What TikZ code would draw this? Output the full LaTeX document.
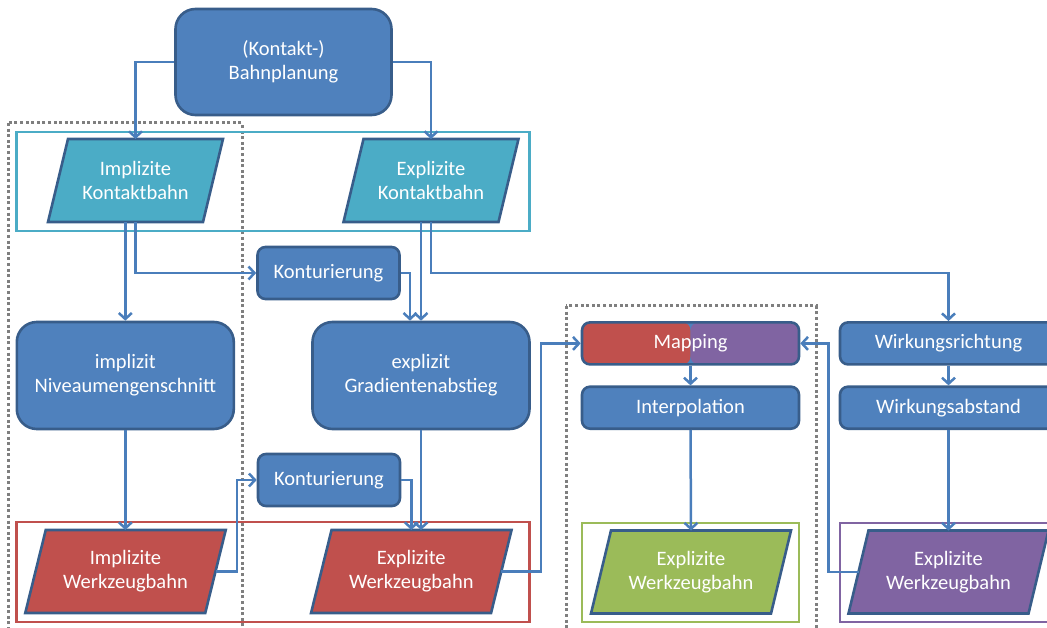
\documentclass[tikz,border=0pt]{standalone}
\usepackage{fontspec}
\setmainfont{Carlito}
\usetikzlibrary{arrows.meta,calc}

\definecolor{nodefill}{HTML}{4F81BD}
\definecolor{nodeline}{HTML}{385D8A}
\definecolor{connline}{HTML}{4A7EBB}
\definecolor{cyanfill}{HTML}{4BACC6}
\definecolor{redfill}{HTML}{C0504D}
\definecolor{greenfill}{HTML}{9BBB59}
\definecolor{purplefill}{HTML}{8064A2}
\definecolor{dotgray}{HTML}{7F7F7F}

\tikzset{
  lbl/.style={font=\fontsize{20.5}{24}\selectfont, text=white, align=center, inner sep=0pt},
  procbox/.style={lbl, draw=nodeline, fill=nodefill, line width=2.6pt, rounded corners=#1},
  bigbox/.style={procbox=20pt, minimum width=217pt, minimum height=107pt},
  smallbox/.style={procbox=8pt, minimum width=142pt, minimum height=52pt},
  flatbox/.style={procbox=8pt, minimum width=217pt, minimum height=42pt},
  % parallelogram: side length, slant, fill colour
  pgram/.style n args={3}{lbl, minimum width={#1+#2+4}, minimum height=87pt, outer sep=-2pt,
    path picture={
      \path[fill=#3, draw=nodeline, line width=2.6pt]
        ($(path picture bounding box.south west)+(2pt,2pt)$) --
        ($(path picture bounding box.north west)+(2pt+#2pt,-2pt)$) --
        ($(path picture bounding box.north east)+(-2pt,-2pt)$) --
        ($(path picture bounding box.south east)+(-2pt-#2pt,2pt)$) -- cycle;
    }},
  groupbox/.style={draw=#1, line width=2.4pt},
  dotbox/.style={draw=dotgray, line width=3pt, dash pattern=on 3pt off 2.6pt},
  conn/.style={draw=connline, line width=2.5pt, -{Straight Barb[length=6pt,width=13pt]}}
}

\begin{document}
\begin{tikzpicture}[x=1pt,y=-1pt]
\useasboundingbox (0,0) rectangle (1047,628);
\clip (0,0) rectangle (1047,628);

% dotted groupings
\draw[dotbox] (8.6,123) rectangle (242,650);
\draw[dotbox] (566,306) rectangle (816,650);

% coloured frames around the path results
\draw[groupbox=cyanfill] (16.5,132) rectangle (529.6,231);
\draw[groupbox=redfill] (16.5,521.7) rectangle (529.6,622);
\draw[groupbox=greenfill] (582,522.7) rectangle (799,621.7);
\draw[groupbox=purplefill] (840,522.7) rectangle (1057,621.7);

% nodes
\node[bigbox, minimum width=216pt, minimum height=106pt] (top) at (283.5,62) {(Kontakt-)\\Bahnplanung};
\node[pgram={155}{20}{cyanfill}] (impKB) at (135.5,180.5) {Implizite\\Kontaktbahn};
\node[pgram={155}{20}{cyanfill}] (expKB) at (431,180.5) {Explizite\\Kontaktbahn};
\node[smallbox] (kont1) at (328.5,273) {Konturierung};
\node[bigbox] (impN) at (125.3,375.5) {implizit\\Niveaumengenschnitt};
\node[bigbox] (expG) at (421,375.5) {explizit\\Gradientenabstieg};
\node[smallbox] (kont2) at (329,480) {Konturierung};
\node[pgram={180}{20.5}{redfill}] (impWB) at (125.5,571.5) {Implizite\\Werkzeugbahn};
\node[pgram={180}{20.5}{redfill}] (expWB) at (411.3,571.5) {Explizite\\Werkzeugbahn};
\node[flatbox, path picture={
    \fill[redfill] (path picture bounding box.south west) rectangle (path picture bounding box.north);
    \fill[purplefill] (path picture bounding box.south) rectangle (path picture bounding box.north east);
  }] (map) at (690.5,343.4) {Mapping};
\node[flatbox] (interp) at (690.5,407.7) {Interpolation};
\node[flatbox] (wr) at (948.5,343.4) {Wirkungsrichtung};
\node[flatbox] (wa) at (948.5,407.7) {Wirkungsabstand};
\node[pgram={180}{20}{greenfill}] (gWB) at (691,572) {Explizite\\Werkzeugbahn};
\node[pgram={180}{20}{purplefill}] (pWB) at (948.5,572) {Explizite\\Werkzeugbahn};

% connectors
\draw[conn] (top.west) -| (impKB.north);
\draw[conn] (top.east) -| (expKB.north);
\draw[conn] (impN.north |- impKB.south) -- (impN.north);
\draw[conn] (impKB.south) |- (kont1.west);
\draw[conn] (kont1.east) -| ($(expG.north)+(-11,0)$);
\draw[conn] (expG.north |- expKB.south) -- (expG.north);
\draw[conn] (expKB.south) -- (expKB.south |- kont1.west) -| (wr.north);
\draw[conn] (impN.south) -- (impN.south |- impWB.north);
\draw[conn] (expG.south) -- (expG.south |- expWB.north);
\draw[conn] (kont2.east) -| (expWB.north);
\draw[conn] ($(impWB.center)+(90,0)$) -- ++(21.5,0) |- (kont2.west);
\draw[conn] ($(expWB.center)+(90,0)$) -- ++(39.7,0) |- (map.west);
\draw[conn] ($(pWB.center)+(-90,0)$) -- ++(-30,0) |- (map.east);
\draw[conn] (map.south) -- (interp.north);
\draw[conn] (interp.south) -- (gWB.north);
\draw[conn] (wr.south) -- (wa.north);
\draw[conn] (wa.south) -- (pWB.north);
\end{tikzpicture}
\end{document}
